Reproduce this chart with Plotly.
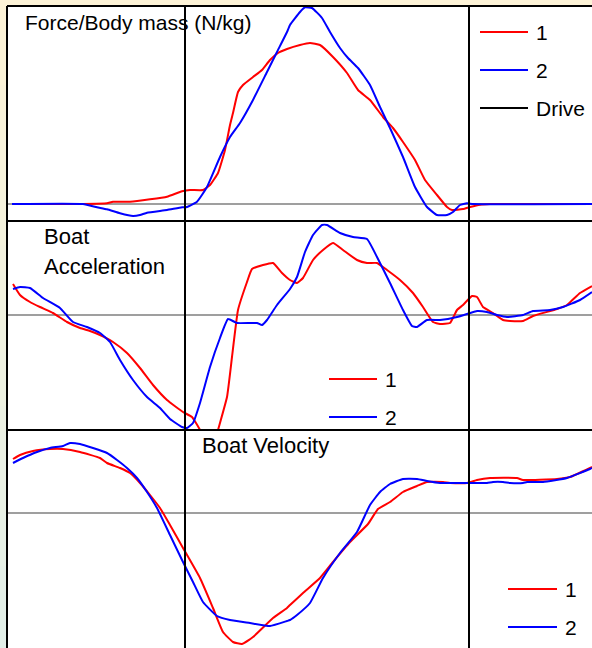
import plotly.graph_objects as go

# ---------------- data (time in s, catch at t = 0) ----------------
# Panel 1: Force / body mass (N/kg)
force_t_1 = [-0.519, -0.306, -0.234, -0.216, -0.165, -0.105, -0.054, -0.009, 0.015, 0.054,
             0.075, 0.099, 0.120, 0.135, 0.144, 0.159, 0.174, 0.204, 0.231, 0.255,
             0.279, 0.306, 0.345, 0.375, 0.405, 0.444, 0.486, 0.519, 0.555, 0.594,
             0.624, 0.654, 0.690, 0.720, 0.756, 0.786, 0.801, 0.834, 0.855, 0.885,
             0.915, 1.221]
force_1 = [0, 0, 0.035, 0.115, 0.115, 0.235, 0.365, 0.635, 0.70, 0.70,
           0.95, 1.55, 2.70, 3.95, 4.55, 5.60, 5.95, 6.35, 6.70, 7.20,
           7.55, 7.75, 7.95, 8.05, 7.95, 7.35, 6.55, 5.70, 5.20, 4.35,
           3.80, 3.10, 2.20, 1.20, 0.45, -0.15, -0.30, -0.25, -0.15, -0.035,
           0, 0]

force_t_2 = [-0.519, -0.306, -0.264, -0.234, -0.195, -0.156, -0.135, -0.114, -0.054, -0.009,
             0.006, 0.036, 0.066, 0.105, 0.135, 0.165, 0.204, 0.246, 0.276, 0.306,
             0.315, 0.345, 0.360, 0.381, 0.411, 0.435, 0.465, 0.489, 0.519, 0.555,
             0.585, 0.615, 0.654, 0.690, 0.726, 0.756, 0.786, 0.804, 0.825, 0.846,
             0.864, 1.221]
force_2 = [0, 0, -0.165, -0.265, -0.465, -0.60, -0.55, -0.435, -0.30, -0.165,
           -0.15, 0.115, 0.85, 2.35, 3.35, 4.05, 5.20, 6.60, 7.60, 8.60,
           8.95, 9.60, 9.835, 9.80, 9.30, 8.60, 7.80, 7.30, 6.80, 5.95,
           4.85, 3.80, 2.35, 0.85, -0.15, -0.55, -0.55, -0.40, -0.05, 0.035,
           0, 0]

# Panel 2: Boat acceleration (m/s^2)
acc_t_1 = [-0.516, -0.495, -0.465, -0.435, -0.396, -0.354, -0.315, -0.285, -0.255, -0.216,
           -0.174, -0.135, -0.096, -0.054, -0.006, 0.021, 0.045, 0.057, 0.072, 0.087,
           0.099, 0.126, 0.141, 0.159, 0.186, 0.201, 0.234, 0.264, 0.291, 0.315,
           0.336, 0.354, 0.384, 0.414, 0.444, 0.474, 0.516, 0.546, 0.576, 0.606,
           0.645, 0.684, 0.714, 0.744, 0.765, 0.795, 0.816, 0.834, 0.861, 0.876,
           0.894, 0.924, 0.954, 0.975, 1.014, 1.044, 1.116, 1.146, 1.185, 1.221]
acc_1 = [3.1, 2.0, 1.3, 0.8, 0.2, -0.7, -1.3, -1.6, -2.0, -2.7,
         -3.8, -5.3, -7.0, -8.5, -9.7, -10.2, -11.5, -12.6, -13.4, -13.0,
         -11.5, -8.2, -4.2, 0.5, 3.3, 4.6, 5.0, 5.2, 4.2, 3.5,
         3.2, 3.7, 5.5, 6.5, 7.2, 6.5, 5.5, 5.2, 5.2, 4.5,
         3.5, 2.2, 0.8, -0.7, -0.9, -0.8, 0.5, 1.0, 1.9, 1.8,
         0.8, 0.2, -0.5, -0.6, -0.6, -0.1, 0.6, 1.0, 2.2, 2.9]

acc_t_2 = [-0.516, -0.495, -0.465, -0.426, -0.375, -0.336, -0.294, -0.255, -0.225, -0.195,
           -0.156, -0.114, -0.075, -0.045, -0.009, 0.006, 0.024, 0.045, 0.075, 0.105,
           0.129, 0.156, 0.216, 0.231, 0.246, 0.276, 0.315, 0.336, 0.360, 0.384,
           0.411, 0.426, 0.465, 0.504, 0.546, 0.576, 0.615, 0.654, 0.681, 0.696,
           0.726, 0.765, 0.816, 0.855, 0.876, 0.906, 0.936, 0.966, 1.014, 1.044,
           1.095, 1.134, 1.185, 1.221]
acc_2 = [2.6, 2.8, 2.7, 1.7, 0.7, -0.7, -1.2, -1.8, -2.7, -4.5,
         -6.5, -8.2, -9.3, -10.4, -11.2, -11.3, -10.8, -8.8, -5.2, -2.3,
         -0.4, -0.8, -0.8, -1.0, -0.5, 1.0, 2.6, 3.8, 6.3, 8.0,
         9.0, 9.0, 8.2, 7.8, 7.6, 5.8, 3.2, 0.5, -1.1, -1.2,
         -0.5, -0.5, -0.2, 0.2, 0.4, 0.3, 0.0, -0.2, 0.0, 0.4,
         0.5, 0.8, 1.5, 2.3]

# Panel 3: Boat velocity (m/s)
vel_t_1 = [-0.516, -0.495, -0.456, -0.405, -0.366, -0.315, -0.255, -0.234, -0.195, -0.165,
           -0.135, -0.105, -0.075, -0.045, -0.006, 0.045, 0.084, 0.114, 0.144, 0.171,
           0.204, 0.264, 0.306, 0.315, 0.354, 0.405, 0.444, 0.495, 0.549, 0.579,
           0.615, 0.654, 0.696, 0.726, 0.774, 0.795, 0.846, 0.876, 0.915, 0.996,
           1.014, 1.116, 1.155, 1.215, 1.221]
vel_1 = [5.04, 5.08, 5.12, 5.14, 5.14, 5.11, 5.05, 5.00, 4.95, 4.90,
         4.80, 4.68, 4.55, 4.38, 4.15, 3.85, 3.55, 3.31, 3.21, 3.19,
         3.26, 3.45, 3.55, 3.58, 3.70, 3.85, 4.01, 4.21, 4.39, 4.54,
         4.61, 4.71, 4.77, 4.81, 4.81, 4.80, 4.80, 4.83, 4.85, 4.85,
         4.83, 4.84, 4.86, 4.95, 4.96]

vel_t_2 = [-0.516, -0.486, -0.444, -0.405, -0.366, -0.345, -0.315, -0.276, -0.234, -0.204,
           -0.174, -0.144, -0.114, -0.084, -0.045, -0.006, 0.024, 0.054, 0.096, 0.135,
           0.195, 0.255, 0.306, 0.315, 0.336, 0.375, 0.414, 0.465, 0.516, 0.555,
           0.585, 0.615, 0.654, 0.696, 0.726, 0.765, 0.816, 0.876, 0.906, 0.924,
           0.954, 0.975, 1.014, 1.026, 1.074, 1.146, 1.215, 1.221]
vel_2 = [5.00, 5.05, 5.11, 5.15, 5.17, 5.20, 5.19, 5.15, 5.10, 5.03,
         4.95, 4.85, 4.71, 4.55, 4.28, 4.01, 3.81, 3.61, 3.47, 3.43,
         3.40, 3.37, 3.42, 3.43, 3.48, 3.60, 3.85, 4.10, 4.31, 4.58,
         4.71, 4.79, 4.84, 4.84, 4.82, 4.80, 4.80, 4.80, 4.80, 4.81,
         4.81, 4.80, 4.80, 4.81, 4.81, 4.85, 4.94, 4.95]

drive_marks = [0.0, 0.852]          # catch and finish (s)
reference_levels = [0.0, 0.0, 4.5]  # horizontal reference per panel
series_names = ["1", "2"]
panel_titles = ["Force/Body mass (N/kg)", "Boat", "Acceleration", "Boat Velocity"]

# ---------------- styling / layout ----------------
RED = "#FF0000"
BLUE = "#0000FF"
FONT = "Liberation Sans, Arial, sans-serif"
W, H = 592, 648
ML, MT = 7, 6
PW, PH = W - ML, H - MT


def px_x(px):
    return (px - ML) / PW


def px_y(py):
    return (H - py) / PH


b1 = px_y(221)
b2 = px_y(430)

fig = go.Figure()
panels = [
    ("y", force_t_1, force_1, force_t_2, force_2),
    ("y2", acc_t_1, acc_1, acc_t_2, acc_2),
    ("y3", vel_t_1, vel_1, vel_t_2, vel_2),
]
for yref, t1, v1, t2, v2 in panels:
    fig.add_trace(go.Scatter(x=t1, y=v1, mode="lines", name=series_names[0], yaxis=yref,
                             line=dict(color=RED, width=2, shape="spline", smoothing=0.4),
                             showlegend=False))
    fig.add_trace(go.Scatter(x=t2, y=v2, mode="lines", name=series_names[1], yaxis=yref,
                             line=dict(color=BLUE, width=2, shape="spline", smoothing=0.4),
                             showlegend=False))

hidden = dict(visible=False, showgrid=False, zeroline=False, fixedrange=True)
fig.update_layout(
    width=W, height=H,
    margin=dict(l=ML, r=0, t=MT, b=0, pad=0),
    paper_bgcolor="#FDF3D7",
    plot_bgcolor="white",
    showlegend=False,
    font=dict(family=FONT, size=21, color="black"),
    xaxis=dict(range=[-0.534, 1.221], domain=[0, 1], **hidden),
    yaxis=dict(range=[-0.85, 9.9], domain=[b1, 1], **hidden),
    yaxis2=dict(range=[-11.5, 9.4], domain=[b2, b1], **hidden),
    yaxis3=dict(range=[3.15, 5.33], domain=[0, b2], **hidden),
)

shapes = []
# left-strip gradient (cream -> pale green)
n = 24
c0 = (253, 243, 215)
c1 = (226, 239, 232)
for i in range(n):
    f = i / (n - 1)
    col = tuple(round(c0[k] + (c1[k] - c0[k]) * f) for k in range(3))
    shapes.append(dict(type="rect", xref="paper", yref="paper", layer="below",
                       x0=px_x(0), x1=0, y0=1 - (i + 1) / n, y1=1 - i / n + 0.002,
                       fillcolor="rgb(%d,%d,%d)" % col, line=dict(width=0)))
# zero/reference lines
for yref, lvl in zip(["y", "y2", "y3"], reference_levels):
    shapes.append(dict(type="line", xref="paper", yref=yref, layer="below",
                       x0=0, x1=1, y0=lvl, y1=lvl, line=dict(color="#7F7F7F", width=1.5)))
# panel separators and border
for yy in [b1, b2, 1]:
    shapes.append(dict(type="line", xref="paper", yref="paper", x0=0, x1=1, y0=yy, y1=yy,
                       line=dict(color="black", width=2)))
shapes.append(dict(type="line", xref="paper", yref="paper", x0=0, x1=0, y0=0, y1=1,
                   line=dict(color="black", width=2)))
# drive lines
for d in drive_marks:
    shapes.append(dict(type="line", xref="x", yref="paper", x0=d, x1=d, y0=0, y1=1,
                       line=dict(color="black", width=2)))

annotations = []


def text(s, px, py, size=21):
    annotations.append(dict(text=s, x=px_x(px), y=px_y(py), xref="paper", yref="paper",
                            xanchor="left", yanchor="middle", showarrow=False,
                            font=dict(family=FONT, size=size, color="black")))


def legend_entry(label, color, x0, x1, py):
    shapes.append(dict(type="line", xref="paper", yref="paper",
                       x0=px_x(x0), x1=px_x(x1), y0=px_y(py), y1=px_y(py),
                       line=dict(color=color, width=2)))
    text(label, x1 + 6, py)


# titles
text(panel_titles[0], 23, 22, size=21)
text(panel_titles[1], 42, 236, size=22)
text(panel_titles[2], 42, 266, size=22)
text(panel_titles[3], 200, 445, size=22)

# legends
legend_entry(series_names[0], RED, 480, 528, 32)
legend_entry(series_names[1], BLUE, 480, 528, 70)
legend_entry("Drive", "black", 480, 528, 108)
legend_entry(series_names[0], RED, 329, 377, 379)
legend_entry(series_names[1], BLUE, 329, 377, 417)
legend_entry(series_names[0], RED, 508, 557, 589)
legend_entry(series_names[1], BLUE, 508, 557, 627)

fig.update_layout(shapes=shapes, annotations=annotations)
fig.write_html(
    "out.html",
    config={"displayModeBar": False},
    post_script="document.body.style.margin='0';document.body.style.overflow='hidden';",
)
